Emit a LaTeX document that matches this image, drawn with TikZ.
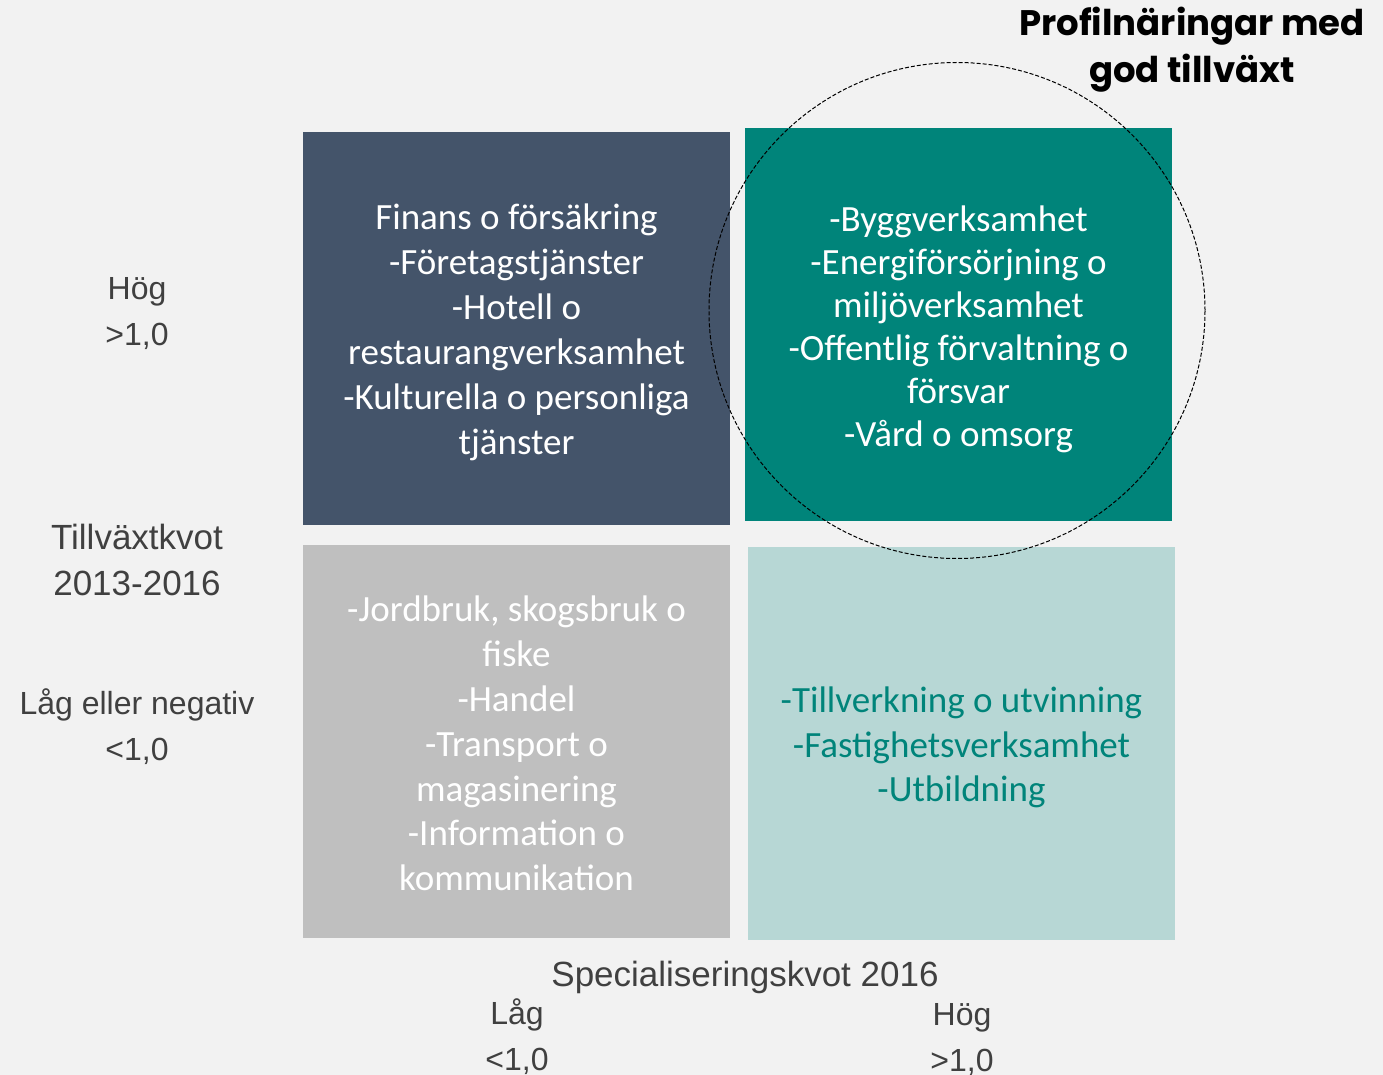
\documentclass[tikz,border=0pt]{standalone}
\usepackage{fontspec}
\setmainfont{Carlito}
\newfontfamily\arialfont{Liberation Sans}
\newfontfamily\titlefont{Poppins}
\definecolor{bgpage}{HTML}{F2F2F2}
\definecolor{slate}{HTML}{44546A}
\definecolor{tealdark}{HTML}{00847A}
\definecolor{greybox}{HTML}{BFBFBF}
\definecolor{teallight}{HTML}{B7D7D5}
\definecolor{axisgrey}{HTML}{404040}
\tikzset{
  quad/.style={minimum width=213.5pt, minimum height=196.5pt, inner sep=0pt},
  quadtext/.style={align=center, text=white, inner sep=0pt,
    font=\fontsize{18.5}{#1}\selectfont},
  axislabel/.style={align=center, text=axisgrey, inner sep=0pt,
    font=\arialfont\fontsize{16}{23}\selectfont},
}
\begin{document}
\begin{tikzpicture}[x=0.5pt,y=-0.5pt]
  \fill[bgpage] (0,0) rectangle (1383,1075);
  \useasboundingbox (0,0) rectangle (1383,1075);
  % the four quadrants
  \node[quad, fill=slate] (highlow) at (516.5,328.5) {};
  \node[quadtext=22.5pt] (highlowtext) at ([yshift=-2pt]highlow.center)
    {Finans o försäkring\\-Företagstjänster\\-Hotell o\\restaurangverksamhet\\-Kulturella o personliga\\tjänster};
  \node[quad, fill=tealdark] (highhigh) at (958.5,324.5) {};
  \node[quadtext=21.5pt] (highhightext) at ([yshift=-2.5pt]highhigh.center)
    {-Byggverksamhet\\-Energiförsörjning o\\miljöverksamhet\\-Offentlig förvaltning o\\försvar\\-Vård o omsorg};
  \node[quad, fill=greybox] (lowlow) at (516.5,741.5) {};
  \node[quadtext=22.4pt] (lowlowtext) at ([yshift=-1pt]lowlow.center)
    {-Jordbruk, skogsbruk o\\fiske\\-Handel\\-Transport o\\magasinering\\-Information o\\kommunikation};
  \node[quad, fill=teallight] (lowhigh) at (961.5,743.5) {};
  \node[quadtext=22.3pt, text=tealdark] (lowhightext) at ([yshift=-2pt]lowhigh.center)
    {-Tillverkning o utvinning\\-Fastighetsverksamhet\\-Utbildning};
  % profile industries
  \node[circle, draw, dashed, dash pattern=on 2pt off 1pt, line width=0.5pt,
    minimum size=248pt, inner sep=0pt] (growth) at (957,310.5) {};
  \node[align=center, inner sep=0pt, font=\titlefont\bfseries\fontsize{17.75}{23.5}\selectfont]
    (title) at (1192,50) {Profilnäringar med\\god tillväxt};
  % growth axis
  \node[axislabel] (ghigh) at (137,314) {Hög\\>1,0};
  \node[axislabel, font=\arialfont\fontsize{17.5}{23}\selectfont] (gname) at (137,560) {Tillväxtkvot\\2013-2016};
  \node[axislabel] (glow) at (137,726.5) {Låg eller negativ\\<1,0};
  % specialisation axis
  \node[axislabel, font=\arialfont\fontsize{17.5}{23}\selectfont] (sname) at (745,977) {Specialiseringskvot 2016};
  \node[axislabel] (slow) at (517,1036.5) {Låg\\<1,0};
  \node[axislabel] (shigh) at (962,1039.5) {Hög\\>1,0};
\end{tikzpicture}
\end{document}
